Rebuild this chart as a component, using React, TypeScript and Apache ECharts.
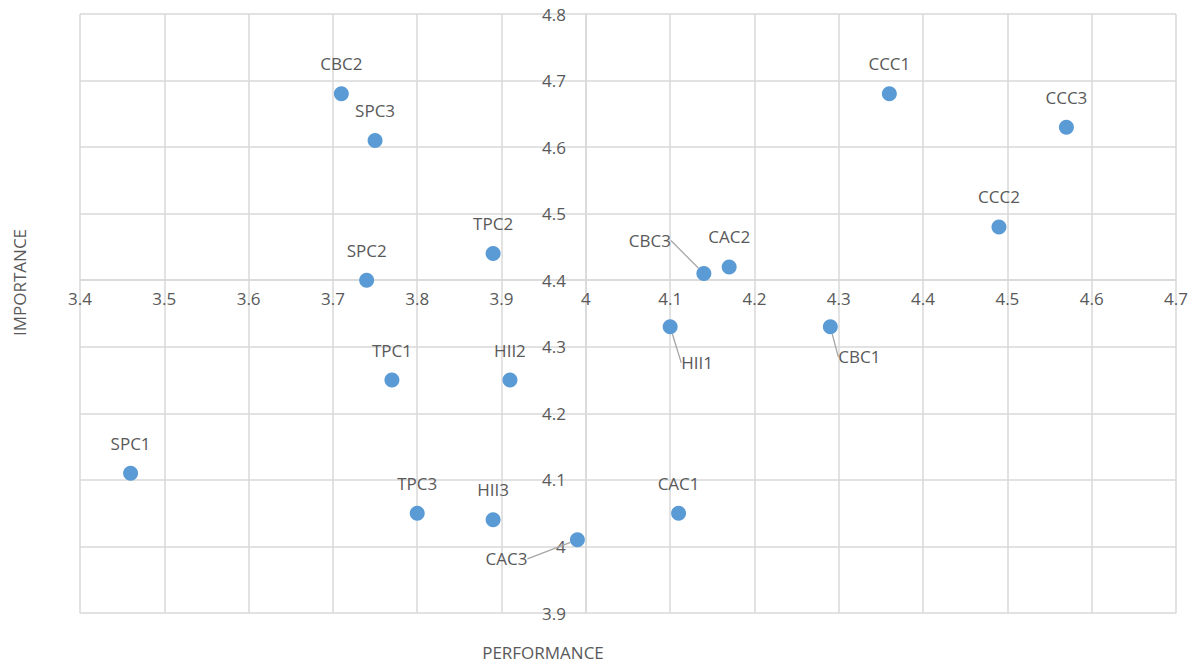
import React, { useEffect, useRef } from "react";
import * as echarts from "echarts";

const names = ["CBC2", "SPC3", "CCC1", "CCC3", "CCC2", "TPC2", "SPC2", "CBC3", "CAC2", "HII1", "CBC1", "TPC1", "HII2", "SPC1", "TPC3", "HII3", "CAC1", "CAC3"];
const performance = [3.71, 3.75, 4.36, 4.57, 4.49, 3.89, 3.74, 4.14, 4.17, 4.10, 4.29, 3.77, 3.91, 3.46, 3.80, 3.89, 4.11, 3.99];
const importance = [4.68, 4.61, 4.68, 4.63, 4.48, 4.44, 4.40, 4.41, 4.42, 4.33, 4.33, 4.25, 4.25, 4.11, 4.05, 4.04, 4.05, 4.01];

const xMin = 3.4, xMax = 4.7, yMin = 3.9, yMax = 4.8, step = 0.1;
const xCross = 4.4; // x axis crosses at importance 4.4
const yCross = 4.0; // y axis crosses at performance 4.0

const labelShift: Record<string, [number, number]> = {
  CBC3: [-54, -3],
  HII1: [27, 66],
  CBC1: [29, 60],
  CAC3: [-71, 49],
};

const FONT = "'Open Sans', 'Noto Sans', sans-serif";
const TXT = "#595959";
const GRID = "#d9d9d9";

export default function App() {
  const ref = useRef<HTMLDivElement>(null);
  useEffect(() => {
    document.body.style.margin = "0";
    const chart = echarts.init(ref.current!, null, { renderer: "svg" });
    const gridLeft = 80, gridRight = 21, gridTop = 14, gridBottom = 53;
    const plotH = 666 - gridTop - gridBottom;
    const plotW = 1197 - gridLeft - gridRight;
    const xOffset = -((xCross - yMin) / (yMax - yMin)) * plotH;
    const yOffset = -((yCross - xMin) / (xMax - xMin)) * plotW;
    const fmt = (v: number) => String(Math.round(v * 10) / 10);
    const data = names.map((n, i) => ({
      name: n,
      value: [performance[i], importance[i]],
      labelLine: { show: !!labelShift[n], lineStyle: { color: "#a6a6a6", width: 1.3 } },
    }));
    chart.setOption({
      animation: false,
      grid: { left: gridLeft, right: gridRight, top: gridTop, bottom: gridBottom, containLabel: false, outerBoundsMode: "none" },
      xAxis: [
        {
          type: "value", min: xMin, max: xMax, interval: step, position: "bottom", offset: xOffset,
          axisLine: { show: true, lineStyle: { color: GRID, width: 1.5 } },
          axisTick: { show: false },
          axisLabel: { color: TXT, fontFamily: FONT, fontSize: 17, margin: 10, formatter: fmt, showMinLabel: true, showMaxLabel: true },
          splitLine: { show: true, lineStyle: { color: GRID, width: 1.5 } },
        },
        {
          type: "value", min: xMin, max: xMax, position: "bottom", offset: 0,
          axisLine: { show: false }, axisTick: { show: false }, axisLabel: { show: false }, splitLine: { show: false },
          name: "PERFORMANCE", nameLocation: "middle", nameGap: 31,
          nameTextStyle: { color: TXT, fontFamily: FONT, fontSize: 17, padding: [0, 170, 0, 0] },
        },
      ],
      yAxis: [
        {
          type: "value", min: yMin, max: yMax, interval: step, position: "left", offset: yOffset,
          axisLine: { show: true, lineStyle: { color: GRID, width: 1.5 } },
          axisTick: { show: false },
          axisLabel: { color: TXT, fontFamily: FONT, fontSize: 17, margin: 20, formatter: fmt, showMinLabel: true, showMaxLabel: true },
          splitLine: { show: true, lineStyle: { color: GRID, width: 1.5 } },
        },
        {
          type: "value", min: yMin, max: yMax, position: "left", offset: 0,
          axisLine: { show: false }, axisTick: { show: false }, axisLabel: { show: false }, splitLine: { show: false },
          name: "IMPORTANCE", nameLocation: "middle", nameGap: 52,
          nameTextStyle: { color: TXT, fontFamily: FONT, fontSize: 17, padding: [0, 0, 0, 62] },
        },
      ],
      series: [
        {
          type: "scatter",
          xAxisIndex: 0, yAxisIndex: 0,
          symbol: "circle", symbolSize: 15,
          itemStyle: { color: "#5b9bd5", opacity: 1 },
          data,
          label: {
            show: true, position: "top", distance: 14,
            formatter: (p: any) => p.name,
            color: TXT, fontFamily: FONT, fontSize: 17,
          },
          labelLayout: (p: any) => {
            const s = labelShift[names[p.dataIndex]];
            return s ? { dx: s[0], dy: s[1] } : {};
          },
          emphasis: { disabled: true },
        },
      ],
    });
    return () => chart.dispose();
  }, []);
  return <div ref={ref} style={{ width: 1197, height: 666 }} />;
}
